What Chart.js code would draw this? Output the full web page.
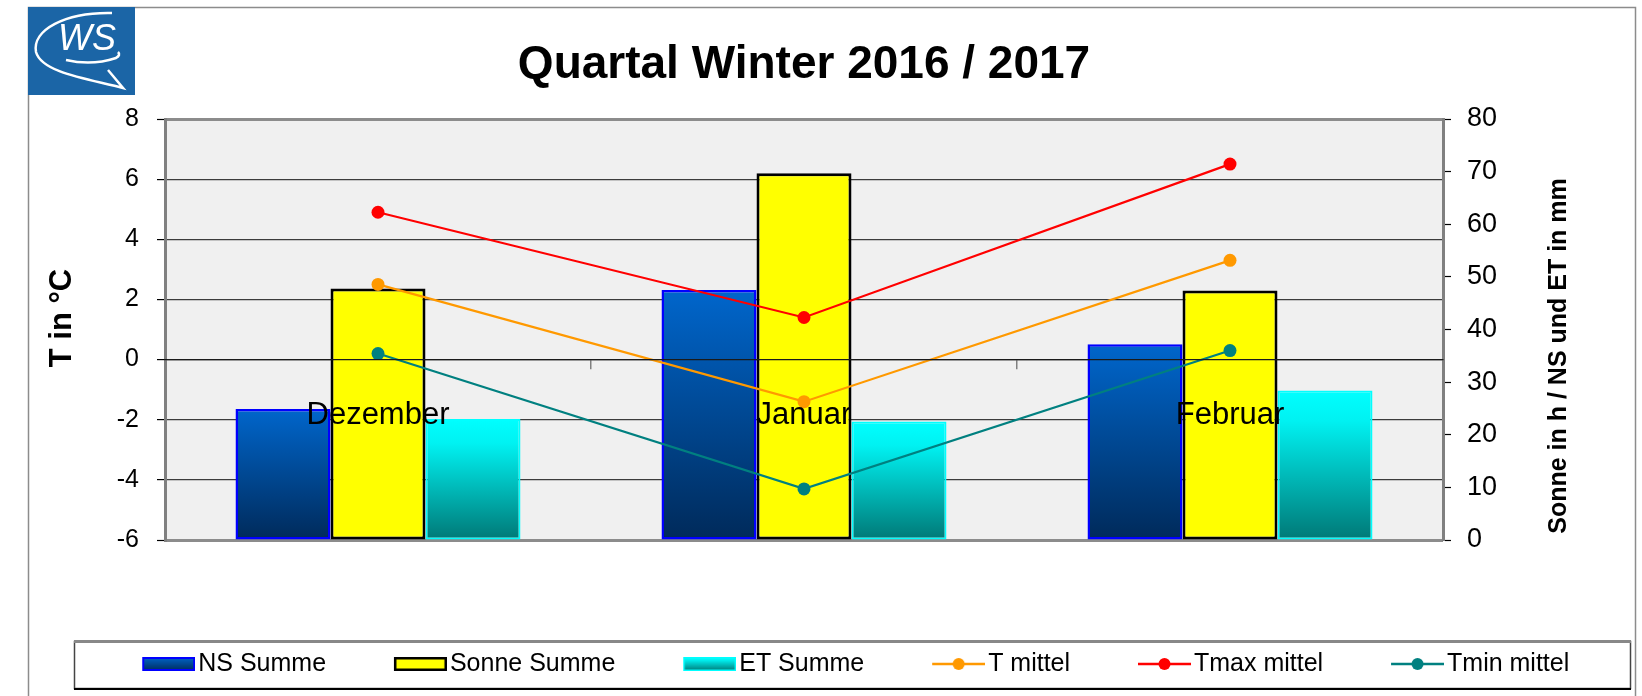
<!DOCTYPE html>
<html>
<head>
<meta charset="utf-8">
<script src="https://cdn.jsdelivr.net/npm/chart.js@4"></script>
<style>
  html, body { margin: 0; padding: 0; background: #fff; }
  canvas { display: block; }
</style>
</head>
<body>
<canvas id="chart" width="1642" height="696"></canvas>
<script>
// values
const months = ['Dezember', 'Januar', 'Februar'];
const nsSumme = [24.9, 47.5, 37.2];      // mm, right axis
const sonneSumme = [47.8, 69.7, 47.4];   // h, right axis
const etSumme = [23.0, 22.5, 28.4];      // mm, right axis
const tMittel = [2.5, -1.4, 3.3];        // °C, left axis
const tmaxMittel = [4.9, 1.4, 6.5];
const tminMittel = [0.2, -4.3, 0.3];
const tempTicks = [-6, 8, 2];            // min, max, step
const amountTicks = [0, 80, 10];

const FONT = '"Liberation Sans", Arial, sans-serif';
Chart.defaults.font.family = FONT;
Chart.defaults.color = '#000';

// vertical gradient per bar, from bar top down to the zero line
const barFill = (stops) => (ctx) => {
    const chart = ctx.chart;
    if (ctx.type !== 'data' || !chart.chartArea) return stops[0][1];
    const scale = chart.scales.y2;
    const yTop = scale.getPixelForValue(ctx.raw);
    const yBottom = scale.getPixelForValue(0);
    const g = chart.ctx.createLinearGradient(0, yTop, 0, yBottom);
    stops.forEach(([pos, col]) => g.addColorStop(pos, col));
    return g;
};

const nsStops = [[0, '#0066cc'], [1, '#002a5a']];
const etStops = [[0, '#00ffff'], [0.2, '#00f2f2'], [1, '#007876']];

// legend icons, box sits at the right end so the text follows closely
const makeIcon = (draw) => {
    const c = document.createElement('canvas');
    c.width = 119;
    c.height = 18;
    draw(c.getContext('2d'));
    return c;
};
const boxIcon = (stops, border, bw) => makeIcon((g) => {
    const grad = g.createLinearGradient(0, 2, 0, 16);
    stops.forEach(([pos, col]) => grad.addColorStop(pos, col));
    g.fillStyle = grad;
    g.fillRect(66, 2, 53, 14);
    g.strokeStyle = border;
    g.lineWidth = bw;
    g.strokeRect(66 + bw / 2, 2 + bw / 2, 53 - bw, 14 - bw);
});
const lineIcon = (col) => makeIcon((g) => {
    g.strokeStyle = col;
    g.lineWidth = 2.5;
    g.beginPath();
    g.moveTo(66, 9);
    g.lineTo(119, 9);
    g.stroke();
    g.fillStyle = col;
    g.beginPath();
    g.arc(92.5, 9, 6, 0, Math.PI * 2);
    g.fill();
});

const legendIcons = [
    boxIcon(nsStops, '#0000ff', 2),
    boxIcon([[0, '#ffff00'], [1, '#ffff00']], '#000', 2.5),
    boxIcon(etStops, '#00ffff', 1.5),
    lineIcon('#ff9900'),
    lineIcon('#ff0000'),
    lineIcon('#008080')
];

const decorations = {
    id: 'decorations',
    beforeDraw(chart) {
        const { ctx, chartArea: a } = chart;
        ctx.save();
        ctx.fillStyle = '#fff';
        ctx.fillRect(0, 0, chart.width, chart.height);

        // outer frame
        ctx.strokeStyle = '#8c8c8c';
        ctx.lineWidth = 1.5;
        ctx.strokeRect(28.5, 7.5, 1607, 720);

        // plot area
        ctx.fillStyle = '#f0f0f0';
        ctx.fillRect(a.left, a.top, a.right - a.left, a.bottom - a.top);

        // legend frame
        ctx.strokeStyle = '#444';
        ctx.lineWidth = 1.5;
        ctx.strokeRect(74.5, 641.5, 1556, 47);
        ctx.strokeStyle = '#888';
        ctx.lineWidth = 3;
        ctx.beginPath(); ctx.moveTo(74, 641.5); ctx.lineTo(1631, 641.5); ctx.stroke();
        ctx.strokeStyle = '#000';
        ctx.lineWidth = 2;
        ctx.beginPath(); ctx.moveTo(74, 689); ctx.lineTo(1631, 689); ctx.stroke();

        // WS logo
        ctx.fillStyle = '#1b65a6';
        ctx.fillRect(28, 7, 107, 88);
        ctx.strokeStyle = '#fff';
        ctx.lineWidth = 2.5;
        ctx.beginPath();
        ctx.moveTo(112, 13);
        ctx.bezierCurveTo(65, 12, 32, 30, 36, 52);
        ctx.bezierCurveTo(42, 74, 95, 80, 123, 88);
        ctx.lineTo(108, 70);
        ctx.stroke();
        ctx.beginPath();
        ctx.moveTo(66, 60);
        ctx.quadraticCurveTo(92, 66, 116, 58);
        ctx.quadraticCurveTo(121, 55, 118, 52);
        ctx.stroke();
        ctx.fillStyle = '#fff';
        ctx.font = 'italic 36px ' + FONT;
        ctx.textBaseline = 'alphabetic';
        ctx.fillText('WS', 58, 50);
        ctx.restore();
    },
    afterDraw(chart) {
        const ctx = chart.ctx;
        ctx.save();
        ctx.fillStyle = '#000';
        ctx.textAlign = 'center';
        ctx.textBaseline = 'middle';

        ctx.save();
        ctx.translate(62, 318);
        ctx.rotate(-Math.PI / 2);
        ctx.font = 'bold 31px ' + FONT;
        ctx.fillText('T in °C', 0, 0);
        ctx.restore();

        ctx.save();
        ctx.translate(1559, 356);
        ctx.rotate(-Math.PI / 2);
        ctx.font = 'bold 25px ' + FONT;
        ctx.fillText('Sonne in h / NS und ET in mm', 0, 0);
        ctx.restore();

        ctx.restore();
    }
};

const barSet = (label, data, bg, border, bw) => ({
    type: 'bar',
    label,
    data,
    yAxisID: 'y2',
    backgroundColor: bg,
    borderColor: border,
    borderWidth: bw,
    borderSkipped: false,
    categoryPercentage: 0.669,
    barPercentage: 1,
    order: 2
});

const lineSet = (label, data, col) => ({
    type: 'line',
    label,
    data,
    yAxisID: 'y',
    borderColor: col,
    backgroundColor: col,
    borderWidth: 2.2,
    pointRadius: 6.5,
    pointBorderWidth: 0,
    pointBackgroundColor: col,
    tension: 0,
    fill: false,
    order: 1
});

new Chart(document.getElementById('chart'), {
    data: {
        labels: months,
        datasets: [
            barSet('NS Summe', nsSumme, barFill(nsStops), '#0000ff', 2.5),
            barSet('Sonne Summe', sonneSumme, '#ffff00', '#000', 3),
            barSet('ET Summe', etSumme, barFill(etStops), '#00ffff', 2),
            lineSet('T mittel', tMittel, '#ff9900'),
            lineSet('Tmax mittel', tmaxMittel, '#ff0000'),
            lineSet('Tmin mittel', tminMittel, '#008080')
        ]
    },
    options: {
        responsive: false,
        devicePixelRatio: 1,
        animation: false,
        events: [],
        layout: { padding: { left: 15, right: 2, top: 7, bottom: 9.5 } },
        scales: {
            x: {
                type: 'category',
                position: { y: 0 },
                offset: true,
                grid: { display: true, drawOnChartArea: false, tickLength: 9, color: '#808080', lineWidth: 1.5 },
                border: { display: true, color: '#1a1a1a', width: 1.2, z: 1 },
                ticks: { font: { size: 31 }, padding: 28, z: 1, color: '#000' }
            },
            y: {
                position: 'left',
                min: tempTicks[0],
                max: tempTicks[1],
                ticks: { stepSize: tempTicks[2], font: { size: 25 }, padding: 18, color: '#000' },
                grid: {
                    color: (c) => (c.tick && (c.tick.value === tempTicks[0] || c.tick.value === tempTicks[1])) ? '#8c8c8c' : '#3c3c3c',
                    lineWidth: (c) => (c.tick && (c.tick.value === tempTicks[0] || c.tick.value === tempTicks[1])) ? 3 : 1.2,
                    tickLength: 8,
                    tickColor: '#000',
                    tickWidth: 1.2
                },
                border: { color: '#808080', width: 3 },
                afterFit: (scale) => { scale.width = 150; }
            },
            y2: {
                position: 'right',
                min: amountTicks[0],
                max: amountTicks[1],
                ticks: { stepSize: amountTicks[2], font: { size: 27 }, padding: 16, color: '#000' },
                grid: { drawOnChartArea: false, tickLength: 8, tickColor: '#000', tickWidth: 1.2 },
                border: { color: '#808080', width: 3 },
                afterFit: (scale) => { scale.width = 197; }
            }
        },
        plugins: {
            title: {
                display: true,
                text: 'Quartal Winter 2016 / 2017',
                fullSize: false,
                color: '#000',
                font: { size: 46, weight: 'bold' },
                padding: { top: 30.8, bottom: 26 }
            },
            legend: {
                position: 'bottom',
                title: { display: true, text: ' ', font: { size: 10 }, padding: { top: 0, bottom: 88.1 } },
                labels: {
                    usePointStyle: true,
                    pointStyleWidth: 100,
                    padding: 11.4,
                    color: '#000',
                    font: { size: 25 },
                    generateLabels: (chart) => chart.data.datasets.map((ds, i) => ({
                        text: ds.label,
                        pointStyle: legendIcons[i],
                        fillStyle: 'transparent',
                        strokeStyle: 'transparent',
                        lineWidth: 0,
                        fontColor: '#000',
                        hidden: !chart.isDatasetVisible(i),
                        datasetIndex: i
                    }))
                }
            },
            tooltip: { enabled: false }
        }
    },
    plugins: [decorations]
});
</script>
</body>
</html>
